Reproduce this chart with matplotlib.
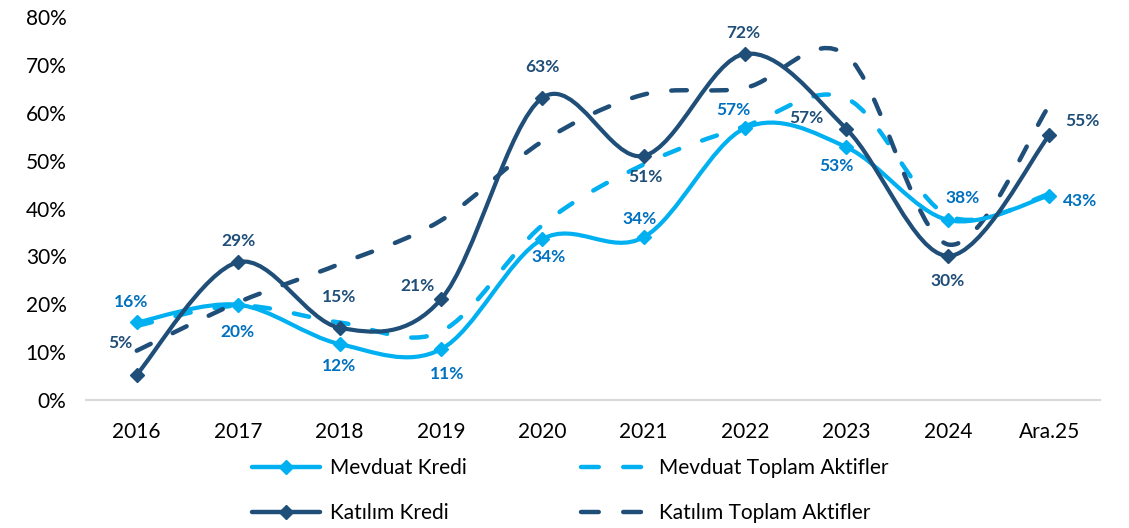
import numpy as np
import matplotlib
matplotlib.use('Agg')
import matplotlib.pyplot as plt
from matplotlib.path import Path
from matplotlib.patches import PathPatch
from matplotlib.lines import Line2D

# data (percent)
years = ['2016', '2017', '2018', '2019', '2020', '2021', '2022', '2023', '2024', 'Ara.25']
mevduat_kredi = [16.2, 19.9, 11.7, 10.6, 33.6, 34.0, 56.8, 52.8, 37.6, 42.7]
katilim_kredi = [5.3, 28.8, 15.1, 21.0, 63.1, 51.0, 72.3, 56.6, 30.1, 55.3]
mevduat_aktif = [15.5, 19.7, 16.2, 14.3, 36.5, 49.2, 57.2, 63.0, 38.5, 43.0]
katilim_aktif = [10.3, 20.4, 28.4, 37.5, 54.0, 63.8, 65.2, 72.0, 32.5, 61.5]

# label offsets in pixels (dx, dy up)
mk_off = [(-6, 20), (-1, -27), (0, -22), (6, -25), (6, -18), (-4, 18), (-12, 18), (-10, -19), (15, 22), (31, -5)]
kk_off = [(-16, 32), (0, 21), (0, 31), (-23, 13), (0, 31), (2, -21), (-2, 21), (-40, 11), (0, -25), (33, 14)]

LIGHT = '#00B0F0'
DARK = '#1F4E79'
LIGHT_TXT = '#0070C0'

plt.rcParams['font.family'] = ['Lato', 'DejaVu Sans']


def smooth_path(xs, ys):
    # excel-like smoothed line: catmull-rom style bezier segments
    pts = np.column_stack([xs, ys]).astype(float)
    n = len(pts)
    verts = [pts[0]]
    codes = [Path.MOVETO]
    for i in range(n - 1):
        p0 = pts[max(i - 1, 0)]
        p1 = pts[i]
        p2 = pts[i + 1]
        p3 = pts[min(i + 2, n - 1)]
        verts += [p1 + (p2 - p0) / 6, p2 - (p3 - p1) / 6, p2]
        codes += [Path.CURVE4] * 3
    return Path(verts, codes)


fig = plt.figure(figsize=(11.29, 5.28), dpi=100)
ax = fig.add_axes([0.0762, 0.2424, 0.8981, 0.7254])
x = np.arange(len(years))

dash = (0, (3.5, 5.5))
ax.add_patch(PathPatch(smooth_path(x, mevduat_aktif), fill=False, ec=LIGHT, lw=3.2,
                       linestyle=dash, capstyle='round', zorder=2))
ax.add_patch(PathPatch(smooth_path(x, katilim_aktif), fill=False, ec=DARK, lw=3.2,
                       linestyle=dash, capstyle='round', zorder=2))
ax.add_patch(PathPatch(smooth_path(x, mevduat_kredi), fill=False, ec=LIGHT, lw=3.0,
                       capstyle='round', zorder=3))
ax.plot(x, mevduat_kredi, ls='none', marker='D', ms=7, color=LIGHT, zorder=3)
ax.add_patch(PathPatch(smooth_path(x, katilim_kredi), fill=False, ec=DARK, lw=3.0,
                       capstyle='round', zorder=4))
ax.plot(x, katilim_kredi, ls='none', marker='D', ms=7, color=DARK, zorder=4)

for xi, v, (dx, dy) in zip(x, mevduat_kredi, mk_off):
    ax.annotate(f'{round(v)}%', (xi, v), xytext=(dx * 0.72, dy * 0.72), textcoords='offset points',
                ha='center', va='center', fontsize=12.5, fontweight='bold', color=LIGHT_TXT, zorder=5)
for xi, v, (dx, dy) in zip(x, katilim_kredi, kk_off):
    ax.annotate(f'{round(v)}%', (xi, v), xytext=(dx * 0.72, dy * 0.72), textcoords='offset points',
                ha='center', va='center', fontsize=12.5, fontweight='bold', color=DARK, zorder=5)

ax.set_xlim(-0.5, len(years) - 0.5)
ax.set_ylim(0, 80)
ax.set_xticks(x)
ax.set_xticklabels(years)
ax.set_yticks(np.arange(0, 81, 10))
ax.set_yticklabels([f'{t}%' for t in range(0, 81, 10)])
ax.tick_params(axis='both', length=0, labelsize=15, colors='black')
ax.tick_params(axis='x', pad=16)
ax.tick_params(axis='y', pad=14)
for s in ['top', 'right', 'left']:
    ax.spines[s].set_visible(False)
ax.spines['bottom'].set_color('#D9D9D9')
ax.spines['bottom'].set_linewidth(1.5)

handles = [
    Line2D([], [], color=LIGHT, lw=3.2, marker='D', ms=7, solid_capstyle='round'),
    Line2D([], [], color=DARK, lw=3.2, marker='D', ms=7, solid_capstyle='round'),
    Line2D([], [], color=LIGHT, lw=3.2, ls=(0, (4.0, 5.5)), dash_capstyle='round'),
    Line2D([], [], color=DARK, lw=3.2, ls=(0, (4.0, 5.5)), dash_capstyle='round'),
]
labels = ['Mevduat Kredi', 'Katılım Kredi', 'Mevduat Toplam Aktifler', 'Katılım Toplam Aktifler']
fig.legend(handles, labels, ncol=2, loc='upper center', bbox_to_anchor=(0.505, 0.152),
           frameon=False, fontsize=15, handlelength=3.3, handletextpad=0.45,
           columnspacing=5.5, labelspacing=1.2, borderpad=0)

fig.savefig('out.png', dpi=100)
